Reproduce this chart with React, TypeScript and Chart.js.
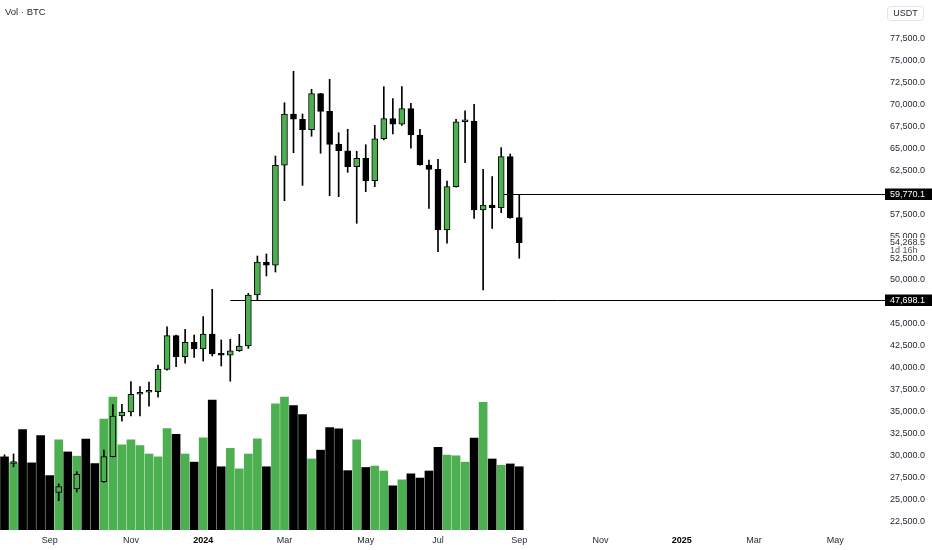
import { useEffect, useRef } from 'react';
import { Chart, registerables } from 'chart.js';

Chart.register(...registerables);

// ---- data ----
const weeks = [
  '2023-07-31', '2023-08-07', '2023-08-14', '2023-08-21', '2023-08-28', '2023-09-04', '2023-09-11', '2023-09-18',
  '2023-09-25', '2023-10-02', '2023-10-09', '2023-10-16', '2023-10-23', '2023-10-30', '2023-11-06', '2023-11-13',
  '2023-11-20', '2023-11-27', '2023-12-04', '2023-12-11', '2023-12-18', '2023-12-25', '2024-01-01', '2024-01-08',
  '2024-01-15', '2024-01-22', '2024-01-29', '2024-02-05', '2024-02-12', '2024-02-19', '2024-02-26', '2024-03-04',
  '2024-03-11', '2024-03-18', '2024-03-25', '2024-04-01', '2024-04-08', '2024-04-15', '2024-04-22', '2024-04-29',
  '2024-05-06', '2024-05-13', '2024-05-20', '2024-05-27', '2024-06-03', '2024-06-10', '2024-06-17', '2024-06-24',
  '2024-07-01', '2024-07-08', '2024-07-15', '2024-07-22', '2024-07-29', '2024-08-05', '2024-08-12', '2024-08-19',
  '2024-08-26', '2024-09-02',
];

const opens = [
  29230, 29060, 29170, 26090, 26010, 25800, 25750, 26420, 26150, 27830, 27700, 26990, 29840, 34480, 34940, 36960,
  37190, 37250, 39810, 43650, 41250, 42890, 42130, 43840, 41560, 41410, 41930, 42470, 48290, 52050, 51680, 63090,
  68940, 68340, 67150, 71260, 69250, 65480, 64750, 62930, 63890, 61330, 66120, 68410, 67770, 69550, 66550, 63120,
  62630, 55710, 60650, 68060, 68140, 57990, 58560, 58250, 64070, 57110,
];
const highs = [
  30050, 30150, 29690, 26820, 28140, 26120, 26730, 27480, 28130, 28600, 27900, 30600, 35800, 35810, 38400, 37830,
  38360, 40300, 44670, 43720, 44380, 43720, 45820, 48940, 43160, 43240, 43800, 48480, 52740, 52970, 64150, 70230,
  73810, 68940, 71760, 71300, 72900, 66810, 67200, 64690, 65440, 67650, 72060, 70690, 72060, 70160, 67200, 63690,
  63770, 61300, 68340, 69290, 70050, 62630, 61790, 65100, 64380, 59770.1,
];
const lows = [
  28590, 28680, 25170, 25800, 25330, 24900, 24820, 26010, 25810, 27200, 26540, 26900, 29800, 33900, 34500, 34500,
  35600, 36620, 39700, 40110, 40500, 41180, 40750, 41330, 40190, 38450, 41850, 42200, 47700, 50460, 50910, 59050,
  64530, 60800, 66400, 64460, 59620, 59510, 62290, 56470, 60080, 60650, 65980, 66660, 67650, 65030, 63100, 58180,
  53230, 54190, 60600, 63390, 57040, 48860, 55900, 57680, 57040, 52480,
];
const closes = [
  29060, 29170, 26090, 26010, 25800, 25750, 26420, 26150, 27830, 27700, 26990, 29840, 34480, 34940, 36960, 37190,
  37250, 39810, 43650, 41250, 42890, 42130, 43840, 41560, 41410, 41930, 42470, 48290, 52050, 51680, 63090, 68940,
  68340, 67150, 71260, 69250, 65480, 64750, 62930, 63890, 61330, 66120, 68410, 67770, 69550, 66550, 63120, 62630,
  55710, 60650, 68060, 68140, 57990, 58560, 58250, 64070, 57110, 54268.5,
];
// volume, thousand BTC
const volumes = [
  207, 190, 284, 190, 267, 154, 255, 221, 209, 257, 188, 314, 376, 241, 255, 239, 215, 207, 287, 271, 215, 192,
  261, 368, 179, 231, 173, 215, 258, 179, 357, 376, 352, 327, 201, 226, 290, 286, 168, 255, 177, 181, 167, 125,
  142, 159, 147, 167, 234, 212, 210, 192, 260, 361, 201, 183, 187, 179,
];

const priceTicks = [
  22500, 25000, 27500, 30000, 32500, 35000, 37500, 40000, 42500, 45000, 50000, 52500, 55000, 57500,
  62500, 65000, 67500, 70000, 72500, 75000, 77500,
];

const xTickIndex = [5, 14, 22, 31, 40, 48, 57, 66, 75, 83, 92];
const xTickLabels = ['Sep', 'Nov', '2024', 'Mar', 'May', 'Jul', 'Sep', 'Nov', '2025', 'Mar', 'May'];
const yearLabels = ['2024', '2025'];

const levelValues = [59770.1, 47698.1];
const levelStartIndex = [55, 25];
const lastPrice = 54268.5;
const countdown = '1d 16h';
const title = 'Vol · BTC';
const currency = 'USDT';

// ---- layout / style ----
const TOTAL_SLOTS = 98;
const FONT = "'Liberation Sans', Arial, Helvetica, sans-serif";
const GREEN = '#4caf50';
const TEXT = '#1e222d';
const WICK = '#000000';

const fmt = (v: number) =>
  v.toLocaleString('en-US', { minimumFractionDigits: 1, maximumFractionDigits: 1 });

const isYear = (v: any) => yearLabels.includes(xTickLabels[xTickIndex.indexOf(Number(v))]);

export default function App() {
  const ref = useRef<HTMLCanvasElement>(null);

  useEffect(() => {
    const canvas = ref.current;
    if (!canvas) return;
    const colorOf = (i: number) => (closes[i] >= opens[i] ? GREEN : '#000000');

    const overlay = {
      id: 'overlay',
      beforeDatasetsDraw(chart: any) {
        const { ctx, chartArea, scales } = chart;
        ctx.save();
        ctx.strokeStyle = '#000';
        ctx.lineWidth = 1;
        levelValues.forEach((v, k) => {
          const py = Math.round(scales.y.getPixelForValue(v)) + 0.5;
          ctx.beginPath();
          ctx.moveTo(scales.x.getPixelForValue(levelStartIndex[k]), py);
          ctx.lineTo(chartArea.right, py);
          ctx.stroke();
        });
        ctx.restore();
      },
      afterDraw(chart: any) {
        const { ctx, chartArea, scales } = chart;
        const left = chartArea.right;
        const w = chart.width - left;
        ctx.save();
        ctx.font = `9px ${FONT}`;
        ctx.textBaseline = 'middle';
        ctx.textAlign = 'left';
        // level labels
        levelValues.forEach((v) => {
          const py = Math.round(scales.y.getPixelForValue(v));
          ctx.fillStyle = '#000';
          ctx.fillRect(left, py - 5.5, w, 11.5);
          ctx.fillStyle = '#fff';
          ctx.fillText(fmt(v), left + 5, py + 0.5);
        });
        // current price label
        const cp = scales.y.getPixelForValue(lastPrice);
        ctx.fillStyle = '#fff';
        ctx.fillRect(left, cp - 4.6, w, 16.3);
        ctx.fillStyle = '#333';
        ctx.fillText(fmt(lastPrice), left + 5, cp);
        ctx.fillStyle = '#555';
        ctx.fillText(countdown, left + 5, cp + 8);
        // title
        ctx.fillStyle = TEXT;
        ctx.font = `9.5px ${FONT}`;
        ctx.fillText(title, 5, 12);
        // currency box
        ctx.strokeStyle = '#e0e3eb';
        ctx.lineWidth = 1;
        ctx.beginPath();
        (ctx as any).roundRect(887.5, 6.5, 36, 14, 3);
        ctx.stroke();
        ctx.fillStyle = TEXT;
        ctx.font = `9px ${FONT}`;
        ctx.textAlign = 'center';
        ctx.fillText(currency, 905.5, 14);
        ctx.restore();
      },
    };

    const chart = new Chart(canvas, {
      type: 'bar',
      data: {
        labels: weeks,
        datasets: [
          {
            label: 'Volume',
            data: volumes.map((v, i) => ({ x: i, y: v })) as any,
            yAxisID: 'yVol',
            backgroundColor: volumes.map((_, i) => colorOf(i)),
            barThickness: 8,
            grouped: false,
            order: 3,
          },
          {
            label: 'Wick',
            data: highs.map((h, i) => ({ x: i, y: [lows[i], h] })) as any,
            yAxisID: 'y',
            backgroundColor: WICK,
            barThickness: 1,
            grouped: false,
            order: 2,
          },
          {
            label: 'Body',
            data: opens.map((o, i) => ({ x: i, y: [o, closes[i]] })) as any,
            yAxisID: 'y',
            backgroundColor: opens.map((_, i) => colorOf(i)),
            borderColor: '#000',
            borderWidth: 1,
            borderSkipped: false,
            barThickness: 6,
            minBarLength: 2,
            grouped: false,
            order: 1,
          },
        ],
      },
      options: {
        animation: false,
        responsive: false,
        maintainAspectRatio: false,
        layout: { padding: 0 },
        plugins: { legend: { display: false }, tooltip: { enabled: false } },
        scales: {
          x: {
            type: 'linear',
            offset: false,
            min: -0.5,
            max: TOTAL_SLOTS - 0.5,
            grid: { display: false, drawTicks: false, offset: false },
            border: { display: false },
            afterBuildTicks: (s: any) => {
              s.ticks = xTickIndex.map((v) => ({ value: v }));
            },
            afterFit: (s: any) => {
              s.height = 20;
              s.paddingLeft = 0;
              s.paddingRight = 0;
            },
            ticks: {
              autoSkip: false,
              maxRotation: 0,
              minRotation: 0,
              padding: 5,
              color: (c: any) => (isYear(c.tick?.value) ? '#000' : TEXT),
              font: (c: any) => ({
                family: FONT,
                size: 9,
                weight: isYear(c.tick?.value) ? 'bold' : 'normal',
              }),
              callback: (v: any) => {
                const k = xTickIndex.indexOf(Number(v));
                return k >= 0 ? xTickLabels[k] : '';
              },
            },
          } as any,
          y: {
            type: 'linear',
            position: 'right',
            min: 21475,
            max: 81950,
            grid: { display: false, drawTicks: false },
            border: { display: false },
            afterBuildTicks: (s: any) => {
              s.ticks = priceTicks.map((v) => ({ value: v }));
            },
            afterFit: (s: any) => {
              s.width = 47;
              s.paddingTop = 0;
              s.paddingBottom = 0;
            },
            ticks: {
              padding: 5,
              color: TEXT,
              font: { family: FONT, size: 9 },
              callback: (v: any) => fmt(Number(v)),
            },
          } as any,
          yVol: {
            type: 'linear',
            display: false,
            min: 0,
            max: 1500,
          },
        },
      },
      plugins: [overlay],
    });

    return () => chart.destroy();
  }, []);

  return (
    <div style={{ position: 'absolute', left: 0, top: 0, width: 932, height: 550 }}>
      <canvas ref={ref} width={932} height={550} style={{ display: 'block' }} />
    </div>
  );
}
